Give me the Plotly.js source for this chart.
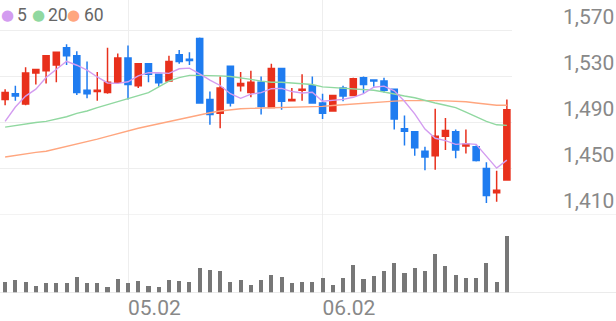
<!DOCTYPE html>
<html>
<head>
<meta charset="utf-8">
<script src="https://cdn.plot.ly/plotly-3.0.1.min.js"></script>
<style>html,body{margin:0;padding:0;background:#fff;}#chart{width:616px;height:321px;}</style>
</head>
<body>
<div id="chart"></div>
<script>
// ---- data ----
const openP  = [1510,1515,1506,1533,1535,1540,1555,1548,1518,1517,1516,1525,1546,1522,1541,1532,1526,1549,1545,1563,1510,1498,1539,1522,1516,1525,1503,1537,1509,1518,1522,1507,1500,1520,1513.5,1529,1527,1526,1519,1484.5,1482,1465,1461,1478,1482,1469.5,1469,1450,1429,1440];
const highP  = [1519,1522,1538,1536,1548,1551,1558,1552,1543,1534,1555,1550,1557,1541,1541,1532,1548,1553,1551,1564,1517,1530,1539,1534,1535,1530,1541,1537,1520,1532,1530,1515,1514,1522,1529,1530,1527.5,1529,1519,1496,1482.5,1469,1502,1494,1484,1484,1470,1455.5,1448,1510];
const lowP   = [1505,1509,1505,1523,1524,1525,1540,1514,1511,1509,1515,1524,1510,1520,1525,1521,1526,1541,1540,1506.5,1488,1485,1504,1517,1512,1497,1503,1501,1508.5,1509,1506.5,1493,1500,1508.5,1513.5,1515,1521,1516,1484,1470,1461,1448.5,1449,1466,1459,1463,1456,1420,1421,1440];
const closeP = [1516,1513,1533,1536,1548,1551,1548,1516,1515,1518,1525,1546,1523,1541,1532,1524.5,1543,1543,1544,1507,1497,1520,1507,1524,1525,1504,1537,1508.5,1510,1519,1507,1498,1513.5,1513,1528,1523,1526,1518,1493,1482.5,1468,1460,1478,1483,1466,1471,1457,1426.5,1431,1501];
const ma5    = [1491,1503.5,1513,1519,1529.2,1536.2,1543.2,1539.8,1535.6,1529.6,1524.4,1524,1525.4,1530.6,1533.4,1533.3,1532.7,1536.7,1537.3,1532.3,1526.8,1522.2,1515,1511,1514.6,1516,1519.4,1519.7,1516.9,1515.7,1516.3,1508.5,1509.5,1510.1,1511.9,1515.1,1520.7,1521.6,1517.6,1508.5,1497.5,1484.3,1476.3,1474.3,1471,1471.6,1471,1460.7,1450.3,1457.3];
const ma20   = [1486,1487.5,1489,1490,1491,1493,1495,1498,1500,1503,1505.5,1508,1510.5,1513,1516,1521,1526,1529,1531,1531,1531,1530.5,1530,1529,1527.5,1526,1525,1525,1524.5,1524,1523,1521,1520.5,1520,1519.5,1518.5,1518,1516.5,1514.5,1513,1511.5,1509,1507,1505,1503,1499,1495,1491,1488,1487.5];
const ma60   = [1460,1461.5,1462.5,1464,1465,1467,1469,1471,1473,1475.5,1478,1480.5,1483,1485,1487,1489,1491,1493,1495,1497,1498.5,1500,1501,1502,1502.3,1502.5,1502.6,1502.7,1503,1503.3,1503.7,1504,1504.8,1505.5,1506,1506.8,1507.5,1508,1508.6,1509,1509.2,1509.2,1509,1508.8,1508.5,1508,1507,1506,1505,1505];
const volume = [113,130,113,73,97,97,97,157,97,97,60,137,97,120,70,63,130,120,107,253,233,217,107,130,77,130,177,163,97,107,107,147,77,153,277,143,170,220,303,197,253,217,393,273,177,153,153,300,107,573];
const xTickIdx  = [12, 31];
const xTickText = ['05.02', '06.02'];
const yTicks    = [1410, 1450, 1490, 1530, 1570];
const maNames   = ['5', '20', '60'];
// ---------------------------------------

const idx = closeP.map((_, i) => i);
const RED = '#e8301c', BLUE = '#1f7cf0';
const maColors = ['#d39cf0', '#90d8a0', '#ffa67f'];

const traces = [
  {type:'scatter', mode:'lines', x:idx, y:ma60, line:{color:maColors[2], width:1.4}, xaxis:'x', yaxis:'y', hoverinfo:'skip'},
  {type:'scatter', mode:'lines', x:idx, y:ma20, line:{color:maColors[1], width:1.4}, xaxis:'x', yaxis:'y', hoverinfo:'skip'},
  {type:'scatter', mode:'lines', x:idx, y:ma5, line:{color:maColors[0], width:1.4}, xaxis:'x', yaxis:'y', hoverinfo:'skip'},
  {type:'candlestick', x:idx, open:openP, high:highP, low:lowP, close:closeP, xaxis:'x', yaxis:'y',
   increasing:{line:{color:RED, width:1.5}, fillcolor:RED},
   decreasing:{line:{color:BLUE, width:1.5}, fillcolor:BLUE}, whiskerwidth:0},
  {type:'bar', x:idx, y:volume, xaxis:'x', yaxis:'y2', marker:{color:'#777777'}, width:0.4}
];

const priceBottom = (293 - 214.5) / 293;
const W = 512, H = 293;
const annotations = [];
const dotX = [7, 38, 73], txtX = [15, 46, 82];
maNames.forEach((n, k) => {
  annotations.push({xref:'paper', yref:'paper', x:dotX[k]/W, y:1-15/H, text:'●', showarrow:false,
    xanchor:'center', yanchor:'middle', font:{family:'DejaVu Sans', size:15, color:maColors[k]}});
  annotations.push({xref:'paper', yref:'paper', x:txtX[k]/W, y:1-15/H, text:n, showarrow:false,
    xanchor:'left', yanchor:'middle', font:{family:'Roboto', size:17.5, color:'#666666'}});
});

const layout = {
  width:616, height:321,
  margin:{l:0, r:104, t:0, b:28},
  paper_bgcolor:'#ffffff', plot_bgcolor:'#ffffff',
  showlegend:false,
  boxgap:0.15, boxgroupgap:0.3,
  bargap:0,
  xaxis:{type:'linear', range:[-0.5, 49.5], anchor:'y2', tickvals:xTickIdx, ticktext:xTickText,
    showgrid:true, gridcolor:'#eeeeee', gridwidth:1, zeroline:false, showline:false, ticks:'',
    ticklabelposition:'outside right', rangeslider:{visible:false},
    tickfont:{family:'Roboto', size:21, color:'#888888'}, fixedrange:true},
  yaxis:{domain:[priceBottom, 1], range:[1410, 1410 + 214.5/1.15], side:'right', anchor:'x',
    tickvals:yTicks, tickformat:',d', showgrid:true, gridcolor:'#eeeeee', gridwidth:1,
    zeroline:false, showline:false, ticks:'', ticklabelshift:-14, ticklabelstandoff:50,
    tickfont:{family:'Roboto', size:21, color:'#888888'}, fixedrange:true},
  yaxis2:{domain:[0, priceBottom], range:[0, 573*78.5/57.3], showgrid:false, zeroline:false,
    showticklabels:false, ticks:'', anchor:'x', fixedrange:true},
  shapes:[
    {type:'line', xref:'paper', yref:'y', x0:0, x1:616/W, y0:1410, y1:1410, line:{color:'#e8e8e8', width:1}},
    {type:'line', xref:'paper', yref:'y2', x0:0, x1:616/W, y0:0, y1:0, line:{color:'#e4e4e4', width:1.5}}
  ],
  annotations:annotations
};

Plotly.newPlot('chart', traces, layout, {staticPlot:true, displayModeBar:false});
</script>
</body>
</html>
